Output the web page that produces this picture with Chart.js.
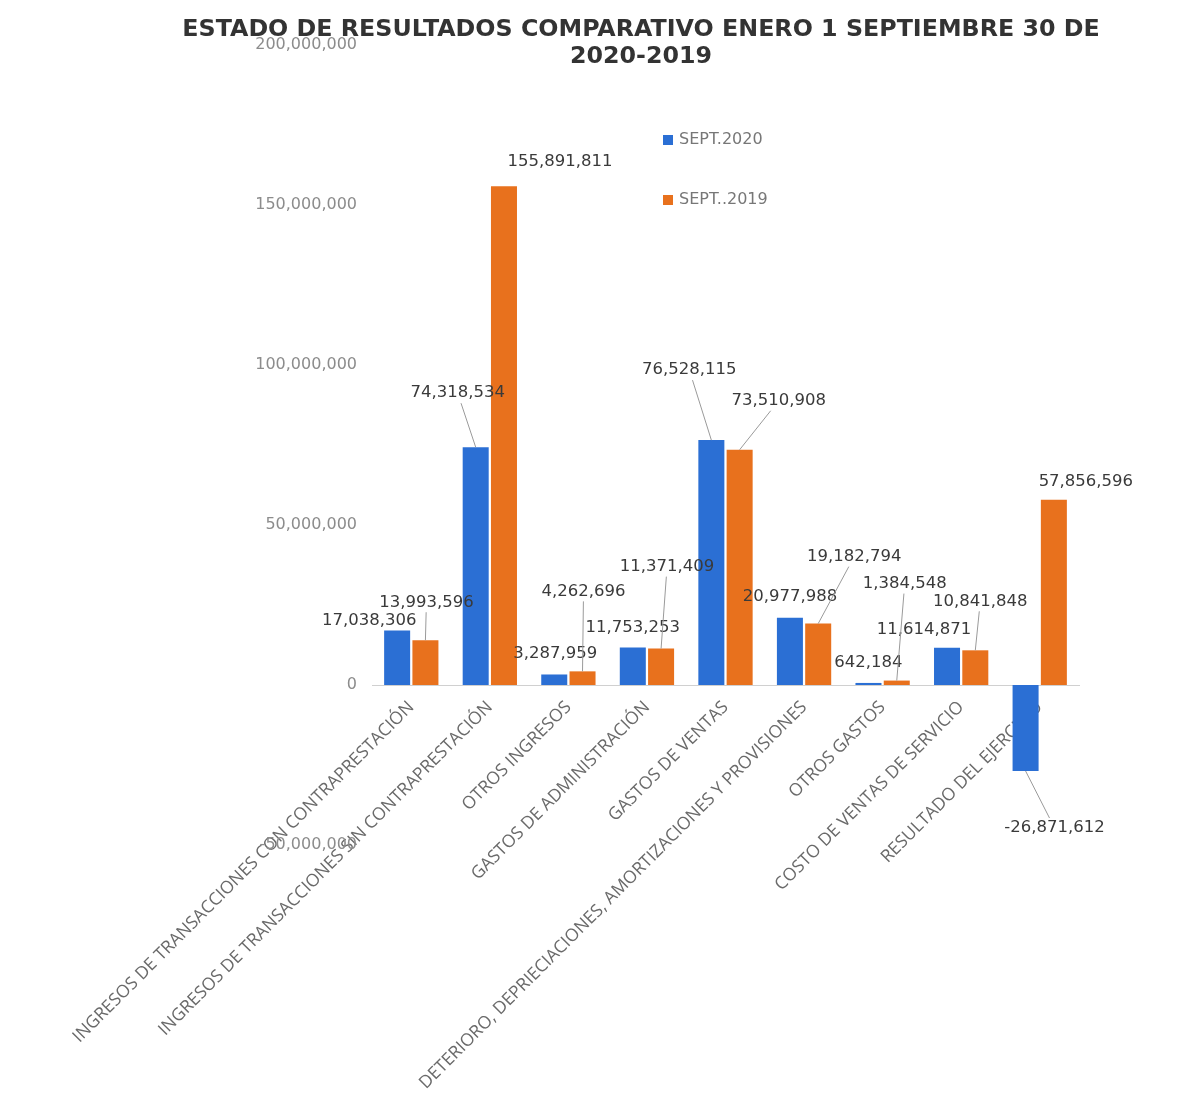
<!DOCTYPE html>
<html>
<head>
<meta charset="utf-8">
<script src="https://cdn.jsdelivr.net/npm/chart.js@4.4.1/dist/chart.umd.min.js"></script>
<style>
  body { margin: 0; background: #ffffff; }
</style>
</head>
<body>
<canvas id="chart" width="1196" height="1097"></canvas>
<script>
const categories = [
  'INGRESOS DE TRANSACCIONES CON CONTRAPRESTACIÓN',
  'INGRESOS DE TRANSACCIONES SIN CONTRAPRESTACIÓN',
  'OTROS INGRESOS',
  'GASTOS DE ADMINISTRACIÓN',
  'GASTOS DE VENTAS',
  'DETERIORO, DEPRIECIACIONES, AMORTIZACIONES Y PROVISIONES',
  'OTROS GASTOS',
  'COSTO DE VENTAS DE SERVICIO',
  'RESULTADO DEL EJERCICIO'
];
const sept2020 = [17038306, 74318534, 3287959, 11753253, 76528115, 20977988, 642184, 11614871, -26871612];
const sept2019 = [13993596, 155891811, 4262696, 11371409, 73510908, 19182794, 1384548, 10841848, 57856596];
const seriesNames = ['SEPT.2020', 'SEPT..2019'];
const titleLines = ['ESTADO DE RESULTADOS COMPARATIVO ENERO 1 SEPTIEMBRE 30 DE', '2020-2019'];

// where each value label sits, relative to the end of its bar
const labelOffsets = [
  [[-28, -10], [-18, -54], [1, -21], [0, -20], [-22, -70], [0, -21], [0, -20], [-23, -18], [29, 57]],
  [[1, -38], [56, -24], [1, -80], [6, -82], [39, -49], [36, -67], [8, -97], [5, -49], [32, -18]]
];

const fmt = v => v.toLocaleString('en-US');

// title, value labels with leader lines, legend
const extrasPlugin = {
  id: 'extras',
  afterDatasetsDraw(chart) {
    const ctx = chart.ctx;
    ctx.save();
    ctx.font = '16.5px "DejaVu Sans"';
    ctx.textAlign = 'center';
    ctx.textBaseline = 'middle';
    chart.data.datasets.forEach((ds, di) => {
      chart.getDatasetMeta(di).data.forEach((bar, i) => {
        const off = labelOffsets[di][i];
        const lx = bar.x + off[0];
        const ly = bar.y + off[1];
        const txt = fmt(ds.data[i]);
        if (Math.abs(off[1]) > 30) {
          const w = ctx.measureText(txt).width / 2 + 2;
          const h = 10;
          const dx = bar.x - lx, dy = bar.y - ly;
          const t = Math.min(Math.abs(w / (dx || 1e-6)), Math.abs(h / (dy || 1e-6)));
          ctx.strokeStyle = '#9a9a9a';
          ctx.lineWidth = 1;
          ctx.beginPath();
          ctx.moveTo(lx + dx * t, ly + dy * t);
          ctx.lineTo(bar.x, bar.y);
          ctx.stroke();
        }
        ctx.fillStyle = '#3a3a3a';
        ctx.fillText(txt, lx, ly);
      });
    });

    // legend
    const a = chart.chartArea;
    ctx.font = '16px "DejaVu Sans"';
    ctx.textAlign = 'left';
    chart.data.datasets.forEach((ds, di) => {
      const x = a.left + 291;
      const y = a.top + 95 + di * 60;
      ctx.fillStyle = ds.backgroundColor;
      ctx.fillRect(x, y - 5, 10, 10);
      ctx.fillStyle = '#777777';
      ctx.fillText(ds.label, x + 16, y);
    });

    // title
    ctx.font = 'bold 23.75px "DejaVu Sans"';
    ctx.textAlign = 'center';
    ctx.fillStyle = '#333333';
    titleLines.forEach((line, k) => {
      ctx.fillText(line, 641, 30 + k * 27);
    });
    ctx.restore();
  }
};

const ctx = document.getElementById('chart').getContext('2d');
new Chart(ctx, {
  type: 'bar',
  data: {
    labels: categories,
    datasets: [
      { label: seriesNames[0], data: sept2020, backgroundColor: '#2b6fd4' },
      { label: seriesNames[1], data: sept2019, backgroundColor: '#e8711d' }
    ]
  },
  options: {
    responsive: false,
    animation: false,
    categoryPercentage: 0.72,
    barPercentage: 0.92,
    layout: { padding: { left: 203, right: 117, top: 45, bottom: 252 } },
    plugins: {
      legend: { display: false },
      tooltip: { enabled: false },
      title: { display: false }
    },
    scales: {
      x: {
        position: { y: 0 },
        grid: { display: false },
        border: { display: true, color: '#d0d0d0', dash: [2, 2] },
        ticks: {
          autoSkip: false,
          minRotation: 45,
          maxRotation: 45,
          color: '#6a6a6a',
          padding: 4,
          font: { family: 'Open Sans', size: 17.5 }
        }
      },
      y: {
        min: -50000000,
        max: 200000000,
        grid: { display: false, drawTicks: false },
        border: { display: false },
        afterFit: s => { s.width = 169; },
        ticks: {
          stepSize: 50000000,
          padding: 15,
          color: '#8c8c8c',
          font: { family: 'DejaVu Sans', size: 16 },
          callback: v => fmt(v)
        }
      }
    }
  },
  plugins: [extrasPlugin]
});
</script>
</body>
</html>
